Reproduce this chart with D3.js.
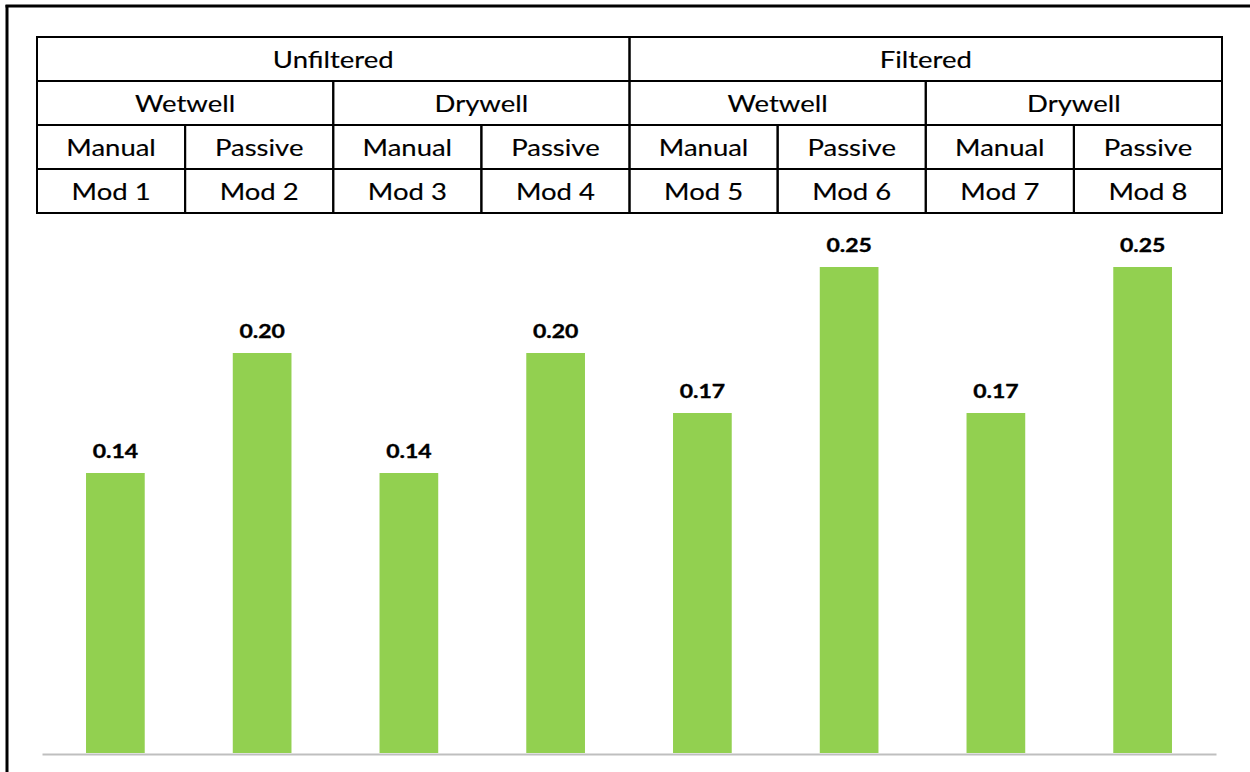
<!DOCTYPE html>
<html>
<head>
<meta charset="utf-8">
<script src="https://cdn.jsdelivr.net/npm/d3@7"></script>
<style>
  html, body { margin: 0; padding: 0; background: #fff; }
  svg { display: block; }
</style>
</head>
<body>
<svg id="chart" width="1250" height="772"></svg>
<script>
// ---- data ----
const categories = ["Mod 1", "Mod 2", "Mod 3", "Mod 4", "Mod 5", "Mod 6", "Mod 7", "Mod 8"];
const values = [0.14, 0.20, 0.14, 0.20, 0.17, 0.243, 0.17, 0.243];
const valueLabels = ["0.14", "0.20", "0.14", "0.20", "0.17", "0.25", "0.17", "0.25"];
const headerLevel1 = ["Unfiltered", "Filtered"];
const headerLevel2 = ["Wetwell", "Drywell", "Wetwell", "Drywell"];
const headerLevel3 = ["Manual", "Passive", "Manual", "Passive", "Manual", "Passive", "Manual", "Passive"];

const svg = d3.select("#chart");
const W = 1250, H = 772;
const FONT = "Lato, 'Open Sans', sans-serif";
const STRETCH = 1.18;

// outer frame (left + top)
svg.append("line").attr("x1", 7).attr("x2", 7).attr("y1", 5).attr("y2", H)
  .attr("stroke", "#000").attr("stroke-width", 3);
svg.append("line").attr("x1", 5.5).attr("x2", W).attr("y1", 6).attr("y2", 6)
  .attr("stroke", "#000").attr("stroke-width", 3);

// ---- header table ----
const tX = d3.scaleBand().domain(categories).range([37, 1222]).paddingInner(0).paddingOuter(0);
const rowY = d3.scaleBand().domain([0, 1, 2, 3]).range([37, 213]);
const colW = tX.bandwidth();
const levels = [
  { row: 0, labels: headerLevel1, span: 4 },
  { row: 1, labels: headerLevel2, span: 2 },
  { row: 2, labels: headerLevel3, span: 1 },
  { row: 3, labels: categories, span: 1 }
];
const tableG = svg.append("g");
levels.forEach(lv => {
  lv.labels.forEach((lab, i) => {
    const x0 = tX(categories[i * lv.span]);
    const w = colW * lv.span;
    const y0 = rowY(lv.row);
    const h = rowY.bandwidth();
    tableG.append("rect")
      .attr("x", x0).attr("y", y0).attr("width", w).attr("height", h)
      .attr("fill", "none").attr("stroke", "#000").attr("stroke-width", 2);
    tableG.append("text")
      .attr("transform", `translate(${x0 + w / 2},${y0 + 31.3}) scale(${STRETCH},1)`)
      .attr("text-anchor", "middle")
      .attr("font-family", FONT)
      .attr("font-size", 23.3)
      .attr("fill", "#000")
      .attr("stroke", "#000").attr("stroke-width", 0.15)
      .text(lab);
  });
});

// ---- bars ----
const x = d3.scaleBand().domain(categories).range([42, 1216]).paddingInner(0.6).paddingOuter(0.3);
const y = d3.scaleLinear().domain([0, 0.25]).range([753, 253]);

svg.append("g").selectAll("rect").data(values).join("rect")
  .attr("x", (d, i) => x(categories[i]))
  .attr("y", d => y(d))
  .attr("width", x.bandwidth())
  .attr("height", d => y(0) - y(d))
  .attr("fill", "#92d050");

svg.append("g").selectAll("text").data(values).join("text")
  .attr("transform", (d, i) => `translate(${x(categories[i]) + x.bandwidth() / 2},${y(d) - 14.6}) scale(${STRETCH},1)`)
  .attr("text-anchor", "middle")
  .attr("font-family", FONT)
  .attr("font-weight", "bold")
  .attr("font-size", 19.5)
  .attr("fill", "#000")
  .attr("stroke", "#000").attr("stroke-width", 0.35)
  .text((d, i) => valueLabels[i]);

// baseline axis
const axis = d3.axisBottom(x).tickSize(0).tickFormat("");
const axG = svg.append("g").attr("transform", `translate(0,${y(0) + 1})`).call(axis);
axG.select(".domain").attr("stroke", "#bfbfbf").attr("stroke-width", 2);
</script>
</body>
</html>
